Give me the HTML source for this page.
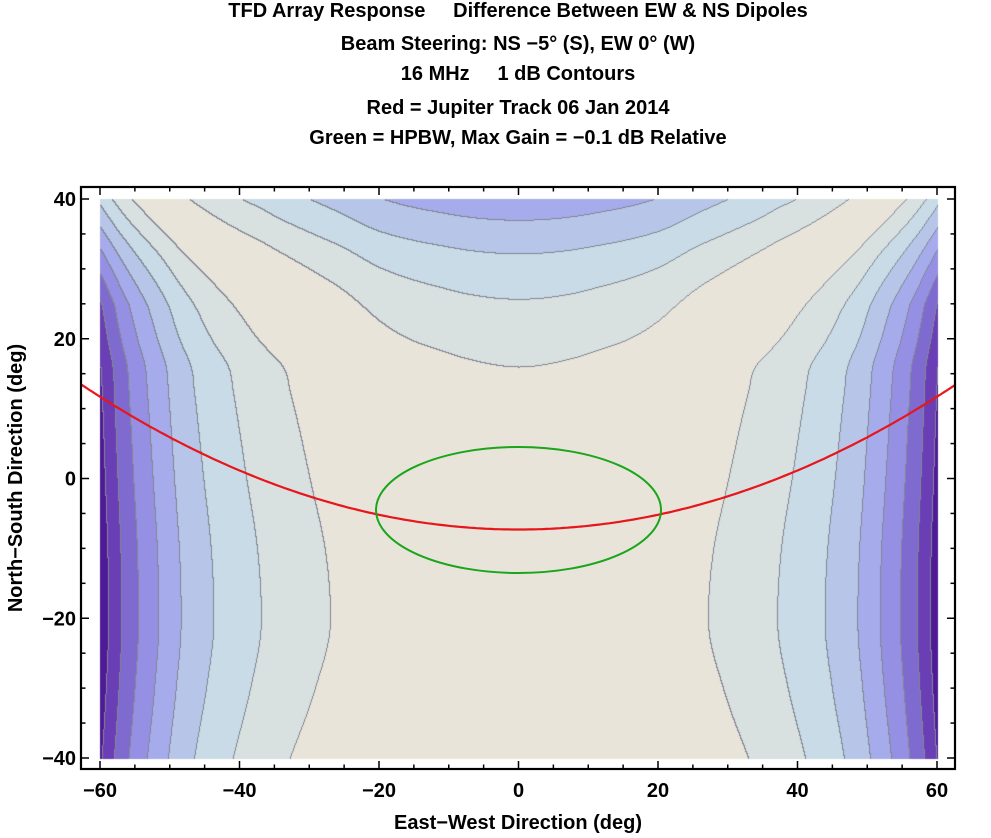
<!DOCTYPE html>
<html><head><meta charset="utf-8"><style>
html,body{margin:0;padding:0;background:#fff;}
#w{position:relative;width:991px;height:838px;overflow:hidden;font-family:"Liberation Sans",sans-serif;font-weight:bold;color:#000;}
canvas{position:absolute;left:0;top:0;}
svg{position:absolute;left:0;top:0;}
</style></head><body><div id="w">
<canvas id="c" width="991" height="838"></canvas>
<svg width="991" height="838" xmlns="http://www.w3.org/2000/svg" font-family="Liberation Sans, sans-serif" font-weight="bold">
<g font-size="20" text-anchor="middle">
<text x="518" y="17" xml:space="preserve">TFD Array Response     Difference Between EW &amp; NS Dipoles</text>
<text x="518" y="50">Beam Steering: NS −5° (S), EW 0° (W)</text>
<text x="518" y="80" xml:space="preserve">16 MHz     1 dB Contours</text>
<text x="518" y="114">Red = Jupiter Track 06 Jan 2014</text>
<text x="518" y="144">Green = HPBW, Max Gain = −0.1 dB Relative</text>
</g>
<g id="ax"></g>
<text x="518" y="829" font-size="20" text-anchor="middle">East−West Direction (deg)</text>
<text transform="translate(22,478) rotate(-90)" font-size="20" text-anchor="middle">North−South Direction (deg)</text>
</svg>
</div>
<script>
var X0=100,X1=937,Y0=199,Y1=758;
function px(d){return 518.5+d*(X1-X0)/120;}
function py(d){return 478.5-d*(Y1-Y0)/80;}
function mk(t,v,m0){var n=t.length,d=[],m=[];for(var i=0;i<n-1;i++)d.push((v[i+1]-v[i])/(t[i+1]-t[i]));
m[0]=(m0!==undefined)?m0:d[0];m[n-1]=d[n-2];for(var i=1;i<n-1;i++){m[i]=(d[i-1]*d[i]<=0)?0:(d[i-1]+d[i])/2;}
for(var i=0;i<n-1;i++){if(d[i]==0){m[i]=m[i+1]=0;continue;}var a=m[i]/d[i],b=m[i+1]/d[i],s=a*a+b*b;if(s>9){var tt=3/Math.sqrt(s);m[i]=tt*a*d[i];m[i+1]=tt*b*d[i];}}
return function(x){if(x<=t[0])return v[0]+(x-t[0])*m[0];if(x>=t[n-1])return v[n-1]+(x-t[n-1])*m[n-1];
var i=0;while(x>t[i+1])i++;var h=t[i+1]-t[i],s=(x-t[i])/h,s2=s*s,s3=s2*s;
return (2*s3-3*s2+1)*v[i]+(s3-2*s2+s)*h*m[i]+(-2*s3+3*s2)*v[i+1]+(s3-s2)*h*m[i+1];};}
var A=mk([0,5,10,20,26,30,37,43.8,48.5,51.7,54.6,57,58.9,60],[0,-0.045,-0.18,-0.66,-1.25,-1.62,-2.35,-3.35,-4.35,-5.35,-6.35,-7.35,-8.35,-9],0);
var Bf=mk([-40,-30,-20,-10,0,12.7,16.1,20,25.8,32.3,37.1,40],[0.9,0.55,0.35,0.42,0.62,0.9,1,1.4,2,3,4,4.6]);
var a37=A(37);
function f(x,y){var ax=Math.abs(x),a=A(ax);
if(ax>37&&y>25){var s=1-0.25*(y-25)/15;a=a37+(a-a37)*s;}
return a+Bf(y);}
var cols=["#e8e4da","#d8e0e0","#c8dbe6","#b7c6e8","#a6aceb","#9590e3","#7f6ad0","#6a3fb5","#4e1a96","#40107f"];
function idx(v){return Math.min(9,Math.floor(Math.abs(v)));}
var c=document.getElementById('c').getContext('2d');
var W=X1-X0+1,H=Y1-Y0+1,I=[];
for(var j=0;j<H;j++){I[j]=[];var y=40-80*j/(H-1);for(var i=0;i<W;i++){var x=-60+120*i/(W-1);I[j][i]=idx(f(x,y));}}
var img=c.createImageData(W,H);
function hx(s){return [parseInt(s.substr(1,2),16),parseInt(s.substr(3,2),16),parseInt(s.substr(5,2),16)];}
var C=cols.map(hx);
for(var j=0;j<H;j++)for(var i=0;i<W;i++){var k=I[j][i],col=C[k];
var edge=(i>0&&I[j][i-1]!=k)||(j>0&&I[j-1][i]!=k);
var o=(j*W+i)*4;
if(edge){col=[130,134,146];}
img.data[o]=col[0];img.data[o+1]=col[1];img.data[o+2]=col[2];img.data[o+3]=255;}
c.putImageData(img,X0,Y0);
var s='';
var L=81,R=955,T=187,B=769;
s+='<defs><clipPath id="cl"><rect x="'+L+'" y="'+T+'" width="'+(R-L)+'" height="'+(B-T)+'"/></clipPath></defs>';
var p='';for(var x=-64;x<=64;x+=0.5){var y=-7.3+0.00528*x*x;p+=(x==-64?'M':'L')+px(x).toFixed(1)+' '+py(y).toFixed(1);}
s+='<path d="'+p+'" fill="none" stroke="#e8151b" stroke-width="2.2" clip-path="url(#cl)"/>';
s+='<ellipse cx="518.5" cy="510" rx="142.5" ry="63" fill="none" stroke="#1aa51a" stroke-width="2"/>';
s+='<rect x="'+L+'" y="'+T+'" width="'+(R-L)+'" height="'+(B-T)+'" fill="none" stroke="#000" stroke-width="2.2"/>';
for(var d=-60;d<=60;d+=5){var X=px(d),len=(d%20==0)?8:4.5;
s+='<line x1="'+X+'" y1="'+B+'" x2="'+X+'" y2="'+(B-len)+'" stroke="#000" stroke-width="1.5"/>';
s+='<line x1="'+X+'" y1="'+T+'" x2="'+X+'" y2="'+(T+len)+'" stroke="#000" stroke-width="1.5"/>';
if(d%20==0)s+='<text x="'+X+'" y="797" font-size="20" text-anchor="middle">'+(d<0?'−'+(-d):d)+'</text>';}
for(var d=-40;d<=40;d+=5){var Y=py(d),len=(d%20==0)?8:4.5;
s+='<line x1="'+L+'" y1="'+Y+'" x2="'+(L+len)+'" y2="'+Y+'" stroke="#000" stroke-width="1.5"/>';
s+='<line x1="'+R+'" y1="'+Y+'" x2="'+(R-len)+'" y2="'+Y+'" stroke="#000" stroke-width="1.5"/>';
if(d%20==0)s+='<text x="76" y="'+(Y+7)+'" font-size="20" text-anchor="end">'+(d<0?'−'+(-d):d)+'</text>';}
document.getElementById('ax').innerHTML=s;
</script>
</body></html>
